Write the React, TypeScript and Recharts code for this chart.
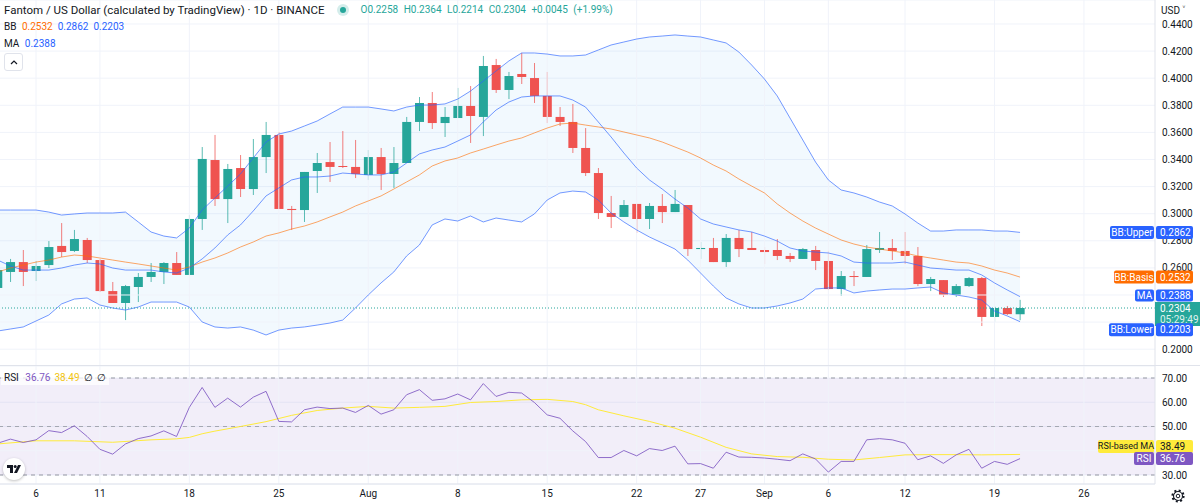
import React from "react";
import {
  ComposedChart,
  Bar,
  Line,
  Area,
  XAxis,
  YAxis,
  CartesianGrid,
  ReferenceLine,
  ReferenceArea,
} from "recharts";

// FTM/USD daily, Jul 3 - Sep 21 2021. day 0 = Jul 6
const startDay = -3;
const xTickDays = [0, 5, 12, 19, 26, 33, 40, 47, 52, 57, 62, 68, 75, 82];
const xTickLabels = ["6", "11", "18", "25", "Aug", "8", "15", "22", "27", "Sep", "6", "12", "19", "26"];
const priceTicks = [0.2, 0.26, 0.28, 0.3, 0.32, 0.34, 0.36, 0.38, 0.4, 0.42, 0.44];
const priceCoveredTicks = [0.22, 0.24]; // grid only, label hidden under the tags
const rsiTicks = [30, 50, 60, 70];
const rsiCoveredTicks = [40];

const open = [
  0.2452, 0.2570, 0.2643,
  0.2577, 0.2621, 0.2762, 0.2725, 0.2806, 0.2658, 0.2429,
  0.2341, 0.2459, 0.2533, 0.2570, 0.2636, 0.2548, 0.2961,
  0.3396, 0.3108, 0.3337, 0.3182, 0.3418, 0.3581, 0.3035,
  0.3027, 0.3315, 0.3381, 0.3352, 0.3345, 0.3286, 0.3418,
  0.3293, 0.3374, 0.3677, 0.3817, 0.3669, 0.3706, 0.3795,
  0.3714, 0.4097, 0.3913, 0.4031, 0.4001, 0.3869, 0.3714,
  0.3677, 0.3485, 0.3300, 0.3005, 0.2976, 0.3072, 0.2961,
  0.3057, 0.3012, 0.3064, 0.2739, 0.2747, 0.2643, 0.2821,
  0.2747, 0.2732, 0.2732, 0.2688, 0.2666, 0.2732, 0.2651,
  0.2444, 0.2540, 0.2533, 0.2732, 0.2747, 0.2725, 0.2688,
  0.2481, 0.2510, 0.2400, 0.2466, 0.2525, 0.2238, 0.2304,
  0.2258,
];
const high = [
  0.2614, 0.2666, 0.2732,
  0.2651, 0.2798, 0.2931, 0.2880, 0.2821, 0.2666, 0.2496,
  0.2474, 0.2562, 0.2636, 0.2643, 0.2717, 0.2990, 0.3492,
  0.3581, 0.3367, 0.3433, 0.3551, 0.3677, 0.3603, 0.3057,
  0.3308, 0.3448, 0.3529, 0.3610, 0.3544, 0.3470, 0.3485,
  0.3492, 0.3714, 0.3861, 0.3898, 0.3787, 0.3928, 0.3942,
  0.4164, 0.4142, 0.4046, 0.4186, 0.4112, 0.4046, 0.3787,
  0.3810, 0.3632, 0.3337, 0.3131, 0.3101, 0.3072, 0.3079,
  0.3145, 0.3175, 0.3064, 0.2791, 0.2821, 0.2850, 0.2880,
  0.2865, 0.2754, 0.2813, 0.2710, 0.2747, 0.2762, 0.2725,
  0.2577, 0.2577, 0.2769, 0.2865, 0.2813, 0.2865, 0.2754,
  0.2533, 0.2510, 0.2481, 0.2533, 0.2533, 0.2319, 0.2319,
  0.2364,
];
const low = [
  0.2422, 0.2496, 0.2466,
  0.2503, 0.2599, 0.2680, 0.2717, 0.2636, 0.2422, 0.2341,
  0.2215, 0.2348, 0.2496, 0.2481, 0.2548, 0.2548, 0.2880,
  0.3057, 0.2931, 0.3123, 0.3138, 0.3300, 0.3035, 0.2880,
  0.2939, 0.3153, 0.3234, 0.3337, 0.3263, 0.3249, 0.3175,
  0.3190, 0.3374, 0.3610, 0.3625, 0.3566, 0.3706, 0.3522,
  0.3573, 0.3891, 0.3846, 0.3957, 0.3817, 0.3669, 0.3647,
  0.3448, 0.3278, 0.2961, 0.2894, 0.2976, 0.2858, 0.2887,
  0.2931, 0.3012, 0.2688, 0.2666, 0.2643, 0.2607, 0.2680,
  0.2732, 0.2629, 0.2658, 0.2643, 0.2666, 0.2584, 0.2437,
  0.2393, 0.2466, 0.2533, 0.2710, 0.2658, 0.2629, 0.2466,
  0.2429, 0.2385, 0.2385, 0.2459, 0.2171, 0.2201, 0.2252,
  0.2214,
];
const close = [
  0.2584, 0.2643, 0.2570,
  0.2614, 0.2754, 0.2717, 0.2813, 0.2658, 0.2429, 0.2341,
  0.2466, 0.2533, 0.2570, 0.2636, 0.2548, 0.2961, 0.3404,
  0.3108, 0.3330, 0.3182, 0.3418, 0.3581, 0.3035, 0.3027,
  0.3308, 0.3374, 0.3345, 0.3345, 0.3293, 0.3418, 0.3293,
  0.3374, 0.3677, 0.3817, 0.3669, 0.3714, 0.3795, 0.3721,
  0.4090, 0.3913, 0.4016, 0.4009, 0.3869, 0.3714, 0.3677,
  0.3485, 0.3300, 0.3005, 0.2976, 0.3064, 0.2961, 0.3057,
  0.3012, 0.3072, 0.2739, 0.2747, 0.2643, 0.2821, 0.2739,
  0.2732, 0.2717, 0.2688, 0.2666, 0.2739, 0.2651, 0.2444,
  0.2540, 0.2533, 0.2739, 0.2747, 0.2725, 0.2688, 0.2481,
  0.2518, 0.2400, 0.2466, 0.2525, 0.2238, 0.2304, 0.2259,
  0.2304,
];

const bbUpper = [
  0.3027, 0.3027, 0.3027,
  0.3027, 0.3012, 0.2990, 0.2998, 0.3005, 0.3005, 0.3005,
  0.3012, 0.2939, 0.2865, 0.2835, 0.2821, 0.2894, 0.3027,
  0.3116, 0.3204, 0.3293, 0.3411, 0.3529, 0.3588, 0.3610,
  0.3647, 0.3684, 0.3736, 0.3787, 0.3787, 0.3787, 0.3773,
  0.3758, 0.3787, 0.3802, 0.3802, 0.3810, 0.3846, 0.3905,
  0.3979, 0.4053, 0.4127, 0.4186, 0.4186, 0.4178, 0.4164,
  0.4164, 0.4171, 0.4208, 0.4245, 0.4267, 0.4289, 0.4304,
  0.4311, 0.4319, 0.4311, 0.4304, 0.4282, 0.4260, 0.4193,
  0.4097, 0.3994, 0.3869, 0.3706, 0.3544, 0.3381, 0.3249,
  0.3175, 0.3153, 0.3123, 0.3086, 0.3057, 0.2998, 0.2931,
  0.2872, 0.2872, 0.2880, 0.2880, 0.2880, 0.2872, 0.2872,
  0.2862,
];
const bbLower = [
  0.2134, 0.2149, 0.2164,
  0.2208, 0.2252, 0.2334, 0.2370, 0.2378, 0.2326, 0.2304,
  0.2289, 0.2311, 0.2348, 0.2348, 0.2348, 0.2311, 0.2201,
  0.2164, 0.2156, 0.2164, 0.2141, 0.2105, 0.2141, 0.2156,
  0.2164, 0.2178, 0.2193, 0.2215, 0.2304, 0.2400, 0.2489,
  0.2570, 0.2688, 0.2769, 0.2917, 0.2961, 0.2946, 0.2983,
  0.2939, 0.2968, 0.2953, 0.2939, 0.2998, 0.3101, 0.3153,
  0.3167, 0.3160, 0.3101, 0.3005, 0.2939, 0.2880, 0.2828,
  0.2784, 0.2739, 0.2658, 0.2562, 0.2466, 0.2378, 0.2334,
  0.2304, 0.2304, 0.2319, 0.2341, 0.2370, 0.2444, 0.2452,
  0.2452, 0.2415, 0.2429, 0.2437, 0.2444, 0.2444, 0.2452,
  0.2459, 0.2415, 0.2400, 0.2385, 0.2363, 0.2282, 0.2245,
  0.2203,
];
const bbBasis = [
  0.2570, 0.2599, 0.2621,
  0.2643, 0.2658, 0.2680, 0.2695, 0.2688, 0.2673, 0.2658,
  0.2643, 0.2629, 0.2614, 0.2599, 0.2584, 0.2607, 0.2643,
  0.2673, 0.2710, 0.2754, 0.2791, 0.2835, 0.2858, 0.2887,
  0.2909, 0.2939, 0.2976, 0.3012, 0.3057, 0.3094, 0.3131,
  0.3182, 0.3234, 0.3286, 0.3352, 0.3389, 0.3411, 0.3448,
  0.3477, 0.3507, 0.3536, 0.3559, 0.3596, 0.3632, 0.3662,
  0.3669, 0.3654, 0.3640, 0.3625, 0.3603, 0.3581, 0.3559,
  0.3529, 0.3492, 0.3455, 0.3411, 0.3359, 0.3315, 0.3256,
  0.3204, 0.3153, 0.3072, 0.3005, 0.2946, 0.2894, 0.2850,
  0.2806, 0.2776, 0.2754, 0.2739, 0.2725, 0.2710, 0.2688,
  0.2673, 0.2658, 0.2643, 0.2636, 0.2614, 0.2584, 0.2562,
  0.2532,
];
const ma = [
  0.2658, 0.2614, 0.2584,
  0.2584, 0.2584, 0.2599, 0.2621, 0.2636, 0.2629, 0.2599,
  0.2584, 0.2584, 0.2584, 0.2570, 0.2562, 0.2599, 0.2666,
  0.2747, 0.2843, 0.2917, 0.3020, 0.3131, 0.3190, 0.3249,
  0.3271, 0.3271, 0.3278, 0.3300, 0.3293, 0.3286, 0.3286,
  0.3308, 0.3374, 0.3441, 0.3470, 0.3492, 0.3536, 0.3581,
  0.3677, 0.3765, 0.3824, 0.3861, 0.3869, 0.3869, 0.3869,
  0.3839, 0.3787, 0.3677, 0.3566, 0.3448, 0.3337, 0.3249,
  0.3182, 0.3108, 0.3042, 0.2961, 0.2924, 0.2902, 0.2880,
  0.2865, 0.2835, 0.2798, 0.2747, 0.2725, 0.2717, 0.2710,
  0.2688, 0.2643, 0.2636, 0.2636, 0.2636, 0.2643, 0.2621,
  0.2599, 0.2592, 0.2584, 0.2584, 0.2548, 0.2489, 0.2437,
  0.2388,
];

const rsi = [
  43.1, 44.8, 43.4,
  44.5, 48.3, 47.5, 50.3, 45.9, 40.6, 38.6,
  42.8, 45.0, 46.1, 48.2, 45.9, 57.9, 66.1,
  57.9, 61.7, 58.0, 62.1, 64.5, 52.1, 51.9,
  56.9, 58.0, 57.4, 57.6, 55.8, 58.7, 55.1,
  56.9, 63.1, 65.2, 60.8, 61.4, 63.4, 61.0,
  67.7, 62.4, 64.1, 63.8, 59.9, 54.8, 53.4,
  48.2, 43.8, 37.2, 37.2, 40.1, 37.9, 40.9,
  40.1, 41.9, 34.6, 34.7, 32.8, 39.4, 37.4,
  37.3, 37.0, 36.5, 35.9, 38.7, 36.6, 31.2,
  35.6, 35.6, 44.5, 45.0, 44.5, 43.1, 36.3,
  37.9, 34.8, 38.3, 40.6, 32.8, 35.6, 34.4,
  36.76,
];
const rsiMa = [
  42.8, null, null,
  44.1, null, null, 44.1, null, null, 43.5,
  null, null, 44.5, null, 44.9, 45.5, 47.0,
  48.1, null, 50.0, null, 52.0, null, 54.6,
  null, 56.6, null, 57.6, null, 58.3, null,
  57.6, null, 57.9, null, 58.3, null, 59.9,
  null, 60.3, null, 61.0, null, 61.2, null,
  60.3, 59.0, 56.9, null, 54.4, null, 52.1,
  null, 49.3, null, 45.6, null, 41.4, null,
  38.7, null, 37.6, null, 37.3, null, 36.5,
  null, 36.2, null, 37.2, null, 38.3, null,
  38.4, null, 38.4, null, 38.3, null, null,
  38.49,
];

const UP = "#26a69a";
const DOWN = "#ef5350";
const BLUE = "#2962ff";
const ORANGE = "#ff6d00";
const PURPLE = "#7e57c2";
const YELLOW = "#ffeb3b";
const GRID = "#f0f3fa";
const BORDER = "#e0e3eb";
const TEXT = "#131722";
const X_DOMAIN = [-2.817, 87.56];
const PRICE_DOMAIN = [0.1876, 0.4577];
const RSI_DOMAIN = [26.29, 74.95];

const priceRows = open.map((o, i) => ({
  day: startDay + i,
  o,
  h: high[i],
  l: low[i],
  c: close[i],
  range: [low[i], high[i]],
  band: [bbLower[i], bbUpper[i]],
  upper: bbUpper[i],
  lower: bbLower[i],
  basis: bbBasis[i],
  ma: ma[i],
}));
const rsiRows = rsi.map((v, i) => ({ day: startDay + i, rsi: v, rsiMa: rsiMa[i] }));

const last = open.length - 1;
const chg = close[last] - close[last - 1];
const pct = (chg / close[last - 1]) * 100;
const lastRsiMa = rsiMa[last] as number;
const dayLabel = (d: number) => xTickLabels[xTickDays.indexOf(d)] ?? "";

const Candle = (props: any) => {
  const { x, y, width, height, payload } = props;
  if (!payload || height == null) return null;
  const { o, h, l, c } = payload;
  const color = c >= o ? UP : DOWN;
  const top = Math.min(y, y + height);
  const full = Math.abs(height);
  const ppu = full / (h - l || 1);
  const yOf = (v: number) => top + (h - v) * ppu;
  const cx = x + width / 2;
  const bTop = yOf(Math.max(o, c));
  const bBot = yOf(Math.min(o, c));
  return (
    <g>
      <line x1={cx} x2={cx} y1={top} y2={top + full} stroke={color} strokeOpacity={0.75} />
      <rect x={x} y={bTop} width={width} height={Math.max(1, bBot - bTop)} fill={color} />
    </g>
  );
};

const Tag = (props: any) => {
  const { viewBox, label, value, color, textColor = "#fff", labelWidth = 40, labelSize = 10, dy = 0, h = 13 } = props;
  if (!viewBox) return null;
  const right = viewBox.x + viewBox.width;
  const cy = viewBox.y + dy;
  return (
    <g>
      {label && (
        <>
          <rect x={right - 1 - labelWidth} y={cy - h / 2} width={labelWidth} height={h} rx={2} fill={color} />
          <text x={right - 1 - labelWidth / 2} y={cy} textAnchor="middle" dominantBaseline="central" fontSize={labelSize} fill={textColor}>
            {label}
          </text>
        </>
      )}
      <rect x={right + 1} y={cy - h / 2} width={37} height={h} rx={2} fill={color} />
      <text x={right + 5} y={cy} dominantBaseline="central" fontSize={10} fill={textColor}>
        {value}
      </text>
    </g>
  );
};

const PriceTag = (props: any) => {
  const { viewBox, value, sub } = props;
  if (!viewBox) return null;
  const right = viewBox.x + viewBox.width;
  const cy = viewBox.y;
  return (
    <g>
      <rect x={right} y={cy - 6} width={46} height={24} fill={UP} />
      <text x={right + 5} y={cy} dominantBaseline="central" fontSize={10} fill="#fff">
        {value}
      </text>
      <text x={right + 5} y={cy + 11} dominantBaseline="central" fontSize={10} fill="#dff2ef">
        {sub}
      </text>
    </g>
  );
};

const App: React.FC = () => {
  return (
    <div
      style={{
        position: "absolute",
        left: 0,
        top: 0,
        width: 1200,
        height: 504,
        overflow: "hidden",
        background: "#fff",
        fontFamily: "Roboto, 'Noto Sans', sans-serif",
        color: TEXT,
      }}
    >
      {/* price pane */}
      <ComposedChart width={1200} height={366} data={priceRows} margin={{ top: 0, right: 0, bottom: 0, left: 0 }}>
        <CartesianGrid vertical={false} stroke={GRID} />
        <XAxis dataKey="day" type="number" domain={X_DOMAIN} allowDataOverflow hide />
        <YAxis
          orientation="right"
          width={45}
          domain={PRICE_DOMAIN}
          allowDataOverflow
          ticks={priceTicks}
          tickFormatter={(v: number) => v.toFixed(4)}
          tick={{ fontSize: 10, fill: TEXT }}
          tickLine={false}
          tickSize={0}
          tickMargin={7}
          axisLine={{ stroke: BORDER }}
        />
        {priceCoveredTicks.map((v) => (
          <ReferenceLine key={v} y={v} stroke={GRID} />
        ))}
        {xTickDays.map((d) => (
          <ReferenceLine key={d} x={d} stroke={GRID} />
        ))}
        <Area dataKey="band" stroke="none" fill="#2196f3" fillOpacity={0.06} isAnimationActive={false} />
        <Line dataKey="upper" stroke={BLUE} strokeOpacity={0.65} strokeWidth={1} dot={false} isAnimationActive={false} />
        <Line dataKey="lower" stroke={BLUE} strokeOpacity={0.65} strokeWidth={1} dot={false} isAnimationActive={false} />
        <Line dataKey="basis" stroke={ORANGE} strokeOpacity={0.6} strokeWidth={1} dot={false} isAnimationActive={false} />
        <Line dataKey="ma" stroke={BLUE} strokeOpacity={0.65} strokeWidth={1} dot={false} isAnimationActive={false} />
        <ReferenceLine y={close[last]} stroke={UP} strokeDasharray="1 2" />
        <Bar dataKey="range" barSize={9} shape={<Candle />} isAnimationActive={false} />
      </ComposedChart>

      {/* price-scale tags, drawn above the axis labels */}
      <div style={{ position: "absolute", left: 0, top: 0 }}>
        <ComposedChart width={1200} height={366} data={priceRows} margin={{ top: 0, right: 45, bottom: 0, left: 0 }}>
          <XAxis dataKey="day" type="number" domain={X_DOMAIN} allowDataOverflow hide />
          <YAxis domain={PRICE_DOMAIN} allowDataOverflow hide />
          <ReferenceLine y={bbUpper[last]} stroke="none" label={<Tag label="BB:Upper" labelWidth={44} value={bbUpper[last].toFixed(4)} color={BLUE} />} />
          <ReferenceLine y={bbBasis[last]} stroke="none" label={<Tag label="BB:Basis" labelWidth={40} value={bbBasis[last].toFixed(4)} color={ORANGE} />} />
          <ReferenceLine y={ma[last]} stroke="none" label={<Tag label="MA" labelWidth={19} h={12} dy={-1} value={ma[last].toFixed(4)} color={BLUE} />} />
          <ReferenceLine y={close[last]} stroke="none" label={<PriceTag value={close[last].toFixed(4)} sub="05:29:49" />} />
          <ReferenceLine y={bbLower[last]} stroke="none" label={<Tag label="BB:Lower" labelWidth={45} dy={8} value={bbLower[last].toFixed(4)} color={BLUE} />} />
        </ComposedChart>
      </div>

      <div style={{ position: "absolute", left: 0, top: 365, width: 1200, height: 1, background: BORDER }} />

      {/* RSI pane */}
      <div style={{ position: "absolute", left: 0, top: 366 }}>
        <ComposedChart width={1200} height={138} data={rsiRows} margin={{ top: 0, right: 0, bottom: 0, left: 0 }}>
          <ReferenceArea y1={30} y2={70} fill={PURPLE} fillOpacity={0.1} stroke="none" />
          <CartesianGrid vertical={false} stroke={GRID} />
          <XAxis
            dataKey="day"
            type="number"
            domain={X_DOMAIN}
            allowDataOverflow
            ticks={xTickDays}
            interval={0}
            tickFormatter={dayLabel}
            tick={{ fontSize: 10, fill: TEXT }}
            tickLine={false}
            tickSize={0}
            tickMargin={6}
            height={20}
            axisLine={{ stroke: BORDER }}
          />
          <YAxis
            orientation="right"
            width={45}
            domain={RSI_DOMAIN}
            allowDataOverflow
            ticks={rsiTicks}
            tickFormatter={(v: number) => v.toFixed(2)}
            tick={{ fontSize: 10, fill: TEXT }}
            tickLine={false}
            tickSize={0}
            tickMargin={7}
            axisLine={{ stroke: BORDER }}
          />
          {rsiCoveredTicks.map((v) => (
            <ReferenceLine key={v} y={v} stroke={GRID} />
          ))}
          {xTickDays.map((d) => (
            <ReferenceLine key={d} x={d} stroke={GRID} />
          ))}
          <ReferenceLine y={70} stroke="#9598a1" strokeDasharray="4 4" />
          <ReferenceLine y={50} stroke="#9598a1" strokeOpacity={0.8} strokeDasharray="4 4" />
          <ReferenceLine y={30} stroke="#9598a1" strokeDasharray="4 4" />
          <Line dataKey="rsiMa" stroke={YELLOW} strokeWidth={1} dot={false} connectNulls isAnimationActive={false} />
          <Line dataKey="rsi" stroke={PURPLE} strokeOpacity={0.85} strokeWidth={1} dot={false} isAnimationActive={false} />
        </ComposedChart>
      </div>
      <div style={{ position: "absolute", left: 0, top: 366 }}>
        <ComposedChart width={1200} height={138} data={rsiRows} margin={{ top: 0, right: 45, bottom: 20, left: 0 }}>
          <XAxis dataKey="day" type="number" domain={X_DOMAIN} allowDataOverflow hide />
          <YAxis domain={RSI_DOMAIN} allowDataOverflow hide />
          <ReferenceLine y={lastRsiMa} stroke="none" label={<Tag label="RSI-based MA" labelWidth={56} labelSize={9} dy={-8} value={lastRsiMa.toFixed(2)} color={YELLOW} textColor={TEXT} />} />
          <ReferenceLine y={rsi[last]} stroke="none" label={<Tag label="RSI" labelWidth={20} value={rsi[last].toFixed(2)} color={PURPLE} />} />
        </ComposedChart>
      </div>

      {/* legend */}
      <div style={{ position: "absolute", left: 4, top: 3, display: "flex", alignItems: "center", whiteSpace: "nowrap", fontSize: 11.5, lineHeight: "14px" }}>
        <span>Fantom / US Dollar (calculated by TradingView) · 1D · BINANCE</span>
        <span style={{ margin: "0 12px", width: 12, height: 12, borderRadius: 6, background: "rgba(38,166,154,0.2)", display: "inline-flex", alignItems: "center", justifyContent: "center" }}>
          <span style={{ width: 6, height: 6, borderRadius: 3, background: UP }} />
        </span>
        <span style={{ fontSize: 10, color: UP, wordSpacing: 3 }}>
          O{open[last].toFixed(4)} H{high[last].toFixed(4)} L{low[last].toFixed(4)} C{close[last].toFixed(4)} +{chg.toFixed(4)} (+{pct.toFixed(2)}%)
        </span>
      </div>
      <div style={{ position: "absolute", left: 4, top: 20, fontSize: 10, whiteSpace: "nowrap", lineHeight: "14px" }}>
        BB <span style={{ color: ORANGE, marginLeft: 3 }}>{bbBasis[last].toFixed(4)}</span>
        <span style={{ color: BLUE, marginLeft: 5 }}>{bbUpper[last].toFixed(4)}</span>
        <span style={{ color: BLUE, marginLeft: 5 }}>{bbLower[last].toFixed(4)}</span>
      </div>
      <div style={{ position: "absolute", left: 4, top: 37, fontSize: 10, whiteSpace: "nowrap", lineHeight: "14px" }}>
        MA <span style={{ color: BLUE, marginLeft: 3 }}>{ma[last].toFixed(4)}</span>
      </div>
      <div style={{ position: "absolute", left: 4, top: 53, width: 17, height: 16, border: `1px solid ${BORDER}`, borderRadius: 3, background: "#fff", display: "flex", alignItems: "center", justifyContent: "center" }}>
        <svg width="8" height="5"><path d="M1 4 L4 1 L7 4" fill="none" stroke={TEXT} strokeWidth="1.2" /></svg>
      </div>
      <div style={{ position: "absolute", left: 1, top: 370, padding: "1px 3px", background: "rgba(255,255,255,0.75)", fontSize: 10, whiteSpace: "nowrap", lineHeight: "13px" }}>
        RSI <span style={{ color: PURPLE, marginLeft: 4 }}>{rsi[last].toFixed(2)}</span>
        <span style={{ color: "#f2c40f", marginLeft: 4 }}>{lastRsiMa.toFixed(2)}</span>
        <span style={{ marginLeft: 4 }}>∅</span>
        <span style={{ marginLeft: 4 }}>∅</span>
      </div>
      <div style={{ position: "absolute", left: 1161, top: 3, fontSize: 10, whiteSpace: "nowrap" }}>USD ˅</div>
      <div style={{ position: "absolute", left: 3, top: 458, width: 22, height: 22, borderRadius: 11, background: "#fff", boxShadow: "0 1px 3px rgba(0,0,0,0.25)", display: "flex", alignItems: "center", justifyContent: "center" }}>
        <svg width="14" height="8" viewBox="0 0 14 8">
          <path d="M0 0 H6 V8 H3 V3 H0 Z" fill={TEXT} />
          <circle cx="8.2" cy="1.5" r="1.5" fill={TEXT} />
          <path d="M11 0 H14 L10 8 H7 Z" fill={TEXT} />
        </svg>
      </div>
      <div style={{ position: "absolute", left: 1171, top: 488 }}>
        <svg width="14" height="14" viewBox="0 0 14 14">
          <circle cx="7" cy="7" r="4.5" fill="none" stroke={TEXT} strokeWidth="1.1" />
          <circle cx="7" cy="7" r="5.6" fill="none" stroke={TEXT} strokeWidth="2" strokeDasharray="2 2.4" />
          <circle cx="7" cy="7" r="1.8" fill="none" stroke={TEXT} strokeWidth="1" />
        </svg>
      </div>
    </div>
  );
};

export default App;
